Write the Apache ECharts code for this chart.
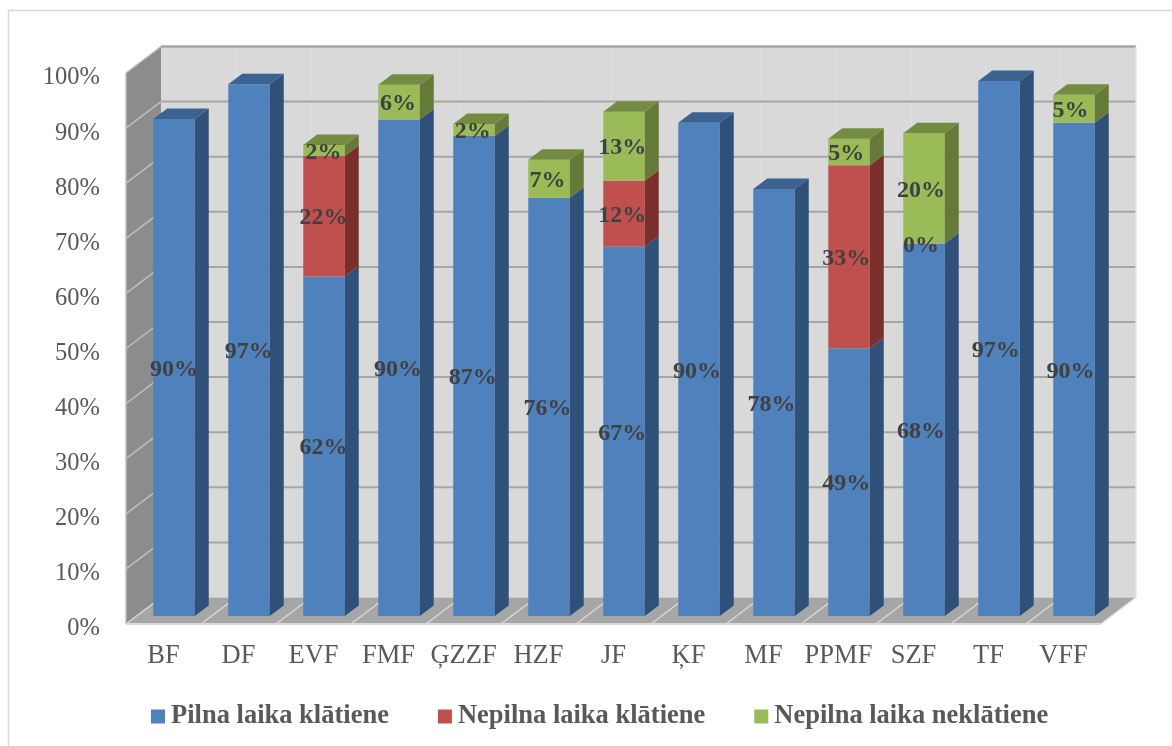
<!DOCTYPE html>
<html><head><meta charset="utf-8">
<style>html,body{margin:0;padding:0;background:#fff}#c{width:1172px;height:746px}</style>
<script src="https://cdn.jsdelivr.net/npm/echarts@6/dist/echarts.min.js"></script>
</head><body><div id="c"></div>
<script>
var categories = ['BF','DF','EVF','FMF','ĢZZF','HZF','JF','ĶF','MF','PPMF','SZF','TF','VFF'];
var fullEmployed = [90.2,96.5,61.6,90.1,87.1,75.9,67.0,89.5,77.5,48.6,67.6,97.1,89.5];
var partEmployed = [null,null,21.9,null,null,null,12.0,null,null,33.2,0,null,null];
var partUnemployed = [null,null,2.0,6.3,2.2,6.9,12.5,null,null,4.8,20.0,null,5.1];
var seriesNames = ['Pilna laika klātiene','Nepilna laika klātiene','Nepilna laika neklātiene'];
var yTicks = [0,10,20,30,40,50,60,70,80,90,100];

var FONT = '"Liberation Serif","Times New Roman",serif';
var WALL = [35,-26.5], PLANE = [10.5,-8], BAR = [14,-10.5], BAR_W = 41.5;
var palette = [
  {front:'#4F81BD', side:'#2F5179', top:'#3B6291'},
  {front:'#C0504D', side:'#7A2F2D', top:'#8F3C3A'},
  {front:'#9BBB59', side:'#657A38', top:'#748C41'}
];
var allValues = [fullEmployed, partEmployed, partUnemployed];

function poly(points, fill, z2){
  return {type:'polygon', shape:{points:points}, style:{fill:fill}, z2:z2||0, silent:true};
}
function line(a, b, stroke, w, z2){
  return {type:'line', shape:{x1:a[0],y1:a[1],x2:b[0],y2:b[1]}, style:{stroke:stroke,lineWidth:w}, z2:z2||1, silent:true};
}
function off(p, d){ return [p[0]+d[0], p[1]+d[1]]; }

function renderWalls(params, api){
  var step = api.size([1,0])[0];
  var n = categories.length;
  var x0 = api.coord([0,0])[0]-step/2, x1 = x0+step*n;
  var y0 = api.coord([0,0])[1], y1 = api.coord([0,100])[1];
  var fl = [x0,y0], fr = [x1,y0], tl = [x0,y1];
  var kids = [];
  kids.push(poly([off(tl,WALL), off([x1,y1],WALL), off(fr,WALL), off(fl,WALL)], '#D9D9D9'));
  kids.push(poly([tl, off(tl,WALL), off(fl,WALL), fl], '#8C8C8C'));
  kids.push(poly([fl, off(fl,WALL), off(fr,WALL), fr], '#A6A6A6'));
  for (var i=1;i<n;i++){
    var x = x0+step*i;
    kids.push(line(off([x,y1],WALL), off([x,y0],WALL), '#E0E0E0', 1));
  }
  for (var j=0;j<=n;j++){
    var xf = x0+step*j;
    if (j<n) kids.push(line([xf,y0], off([xf,y0],WALL), '#D9D9D9', 1.5));
  }
  yTicks.forEach(function(v){
    var y = api.coord([0,v])[1];
    if (v>0) kids.push(line(off([x0,y],WALL), off([x1,y],WALL), '#A6A6A6', v===100?2.5:2, 2));
    if (v>0 && v<100) kids.push(line([x0,y], off([x0,y],WALL), '#BFBFBF', 1.5, 2));
  });
  kids.push(line(tl, off(tl,WALL), '#BFBFBF', 1.5, 2));
  kids.push(line(tl, fl, '#BFBFBF', 1.5, 2));
  kids.push(line(fl, fr, '#D9D9D9', 2, 3));
  kids.push(line(fr, off(fr,WALL), '#E6E6E6', 1.5, 3));
  kids.push(line(off([x1,y1],WALL), off(fr,WALL), '#E6E6E6', 1.5, 3));
  return {type:'group', children:kids};
}

function makeRender(sIdx){
  return function(params, api){
    var i = api.value(0), lo = api.value(1), hi = api.value(2), v = api.value(3);
    var c = palette[sIdx];
    var cx = api.coord([i,0])[0]+PLANE[0];
    var yLo = api.coord([i,lo])[1]+PLANE[1], yHi = api.coord([i,hi])[1]+PLANE[1];
    var l = cx-BAR_W/2, r = cx+BAR_W/2;
    var kids = [];
    var isTop = true;
    for (var s=sIdx+1;s<3;s++){ if (allValues[s][i]) isTop = false; }
    if (hi>lo){
      kids.push(poly([[l,yHi],[r,yHi],[r,yLo],[l,yLo]], c.front, 5));
      kids.push(poly([[r,yHi],off([r,yHi],BAR),off([r,yLo],BAR),[r,yLo]], c.side, 5));
      if (isTop) kids.push(poly([[l,yHi],off([l,yHi],BAR),off([r,yHi],BAR),[r,yHi]], c.top, 5));
    }
    kids.push({type:'text', z2:100, silent:true, style:{
      text:Math.round(v)+'%', x:cx+Math.max(-3.5,-0.3*i), y:(yLo+yHi)/2+2,
      textAlign:'center', textVerticalAlign:'middle',
      font:'bold 24px '+FONT, fill:'#404040'
    }});
    return {type:'group', children:kids};
  };
}

function segData(sIdx){
  var out = [];
  categories.forEach(function(_,i){
    var v = allValues[sIdx][i];
    if (v===null) return;
    var lo = 0;
    for (var s=0;s<sIdx;s++) lo += allValues[s][i]||0;
    out.push([i,lo,lo+v,v]);
  });
  return out;
}

var series = [{
  type:'custom', name:'walls', silent:true, data:[[0,0]], renderItem:renderWalls, z:1, clip:false,
  encode:{x:0,y:1}
}];
seriesNames.forEach(function(nm,s){
  series.push({type:'custom', name:nm, data:segData(s), renderItem:makeRender(s), z:2, clip:false,
    silent:true, encode:{x:0,y:[1,2]}, itemStyle:{color:palette[s].front}});
});

var chart = echarts.init(document.getElementById('c'));
chart.setOption({
  animation:false,
  backgroundColor:'#fff',
  grid:{left:126,right:71,top:73,bottom:122,containLabel:false},
  xAxis:{type:'category',data:categories,boundaryGap:true,
    axisLine:{show:false},axisTick:{show:false},splitLine:{show:false},
    axisLabel:{interval:0,margin:19,color:'#595959',fontFamily:FONT,fontSize:26.5}},
  yAxis:{type:'value',min:0,max:100,interval:10,
    axisLine:{show:false},axisTick:{show:false},splitLine:{show:false},
    axisLabel:{formatter:'{value}%',margin:26,color:'#595959',fontFamily:FONT,fontSize:24.5,verticalAlign:'top',lineHeight:10}},
  legend:{data:seriesNames,left:151,top:703,padding:0,itemWidth:14,itemHeight:14,itemGap:49,icon:'rect',
    selectedMode:false,
    textStyle:{color:'#595959',fontFamily:FONT,fontSize:26.5,fontWeight:'bold',padding:[0,0,0,1]}},
  graphic:[{type:'rect',silent:true,z:0,shape:{x:8.5,y:10.5,width:1300,height:900},
    style:{fill:null,stroke:'#D9D9D9',lineWidth:1.5}}],
  series:series
});
</script></body></html>
